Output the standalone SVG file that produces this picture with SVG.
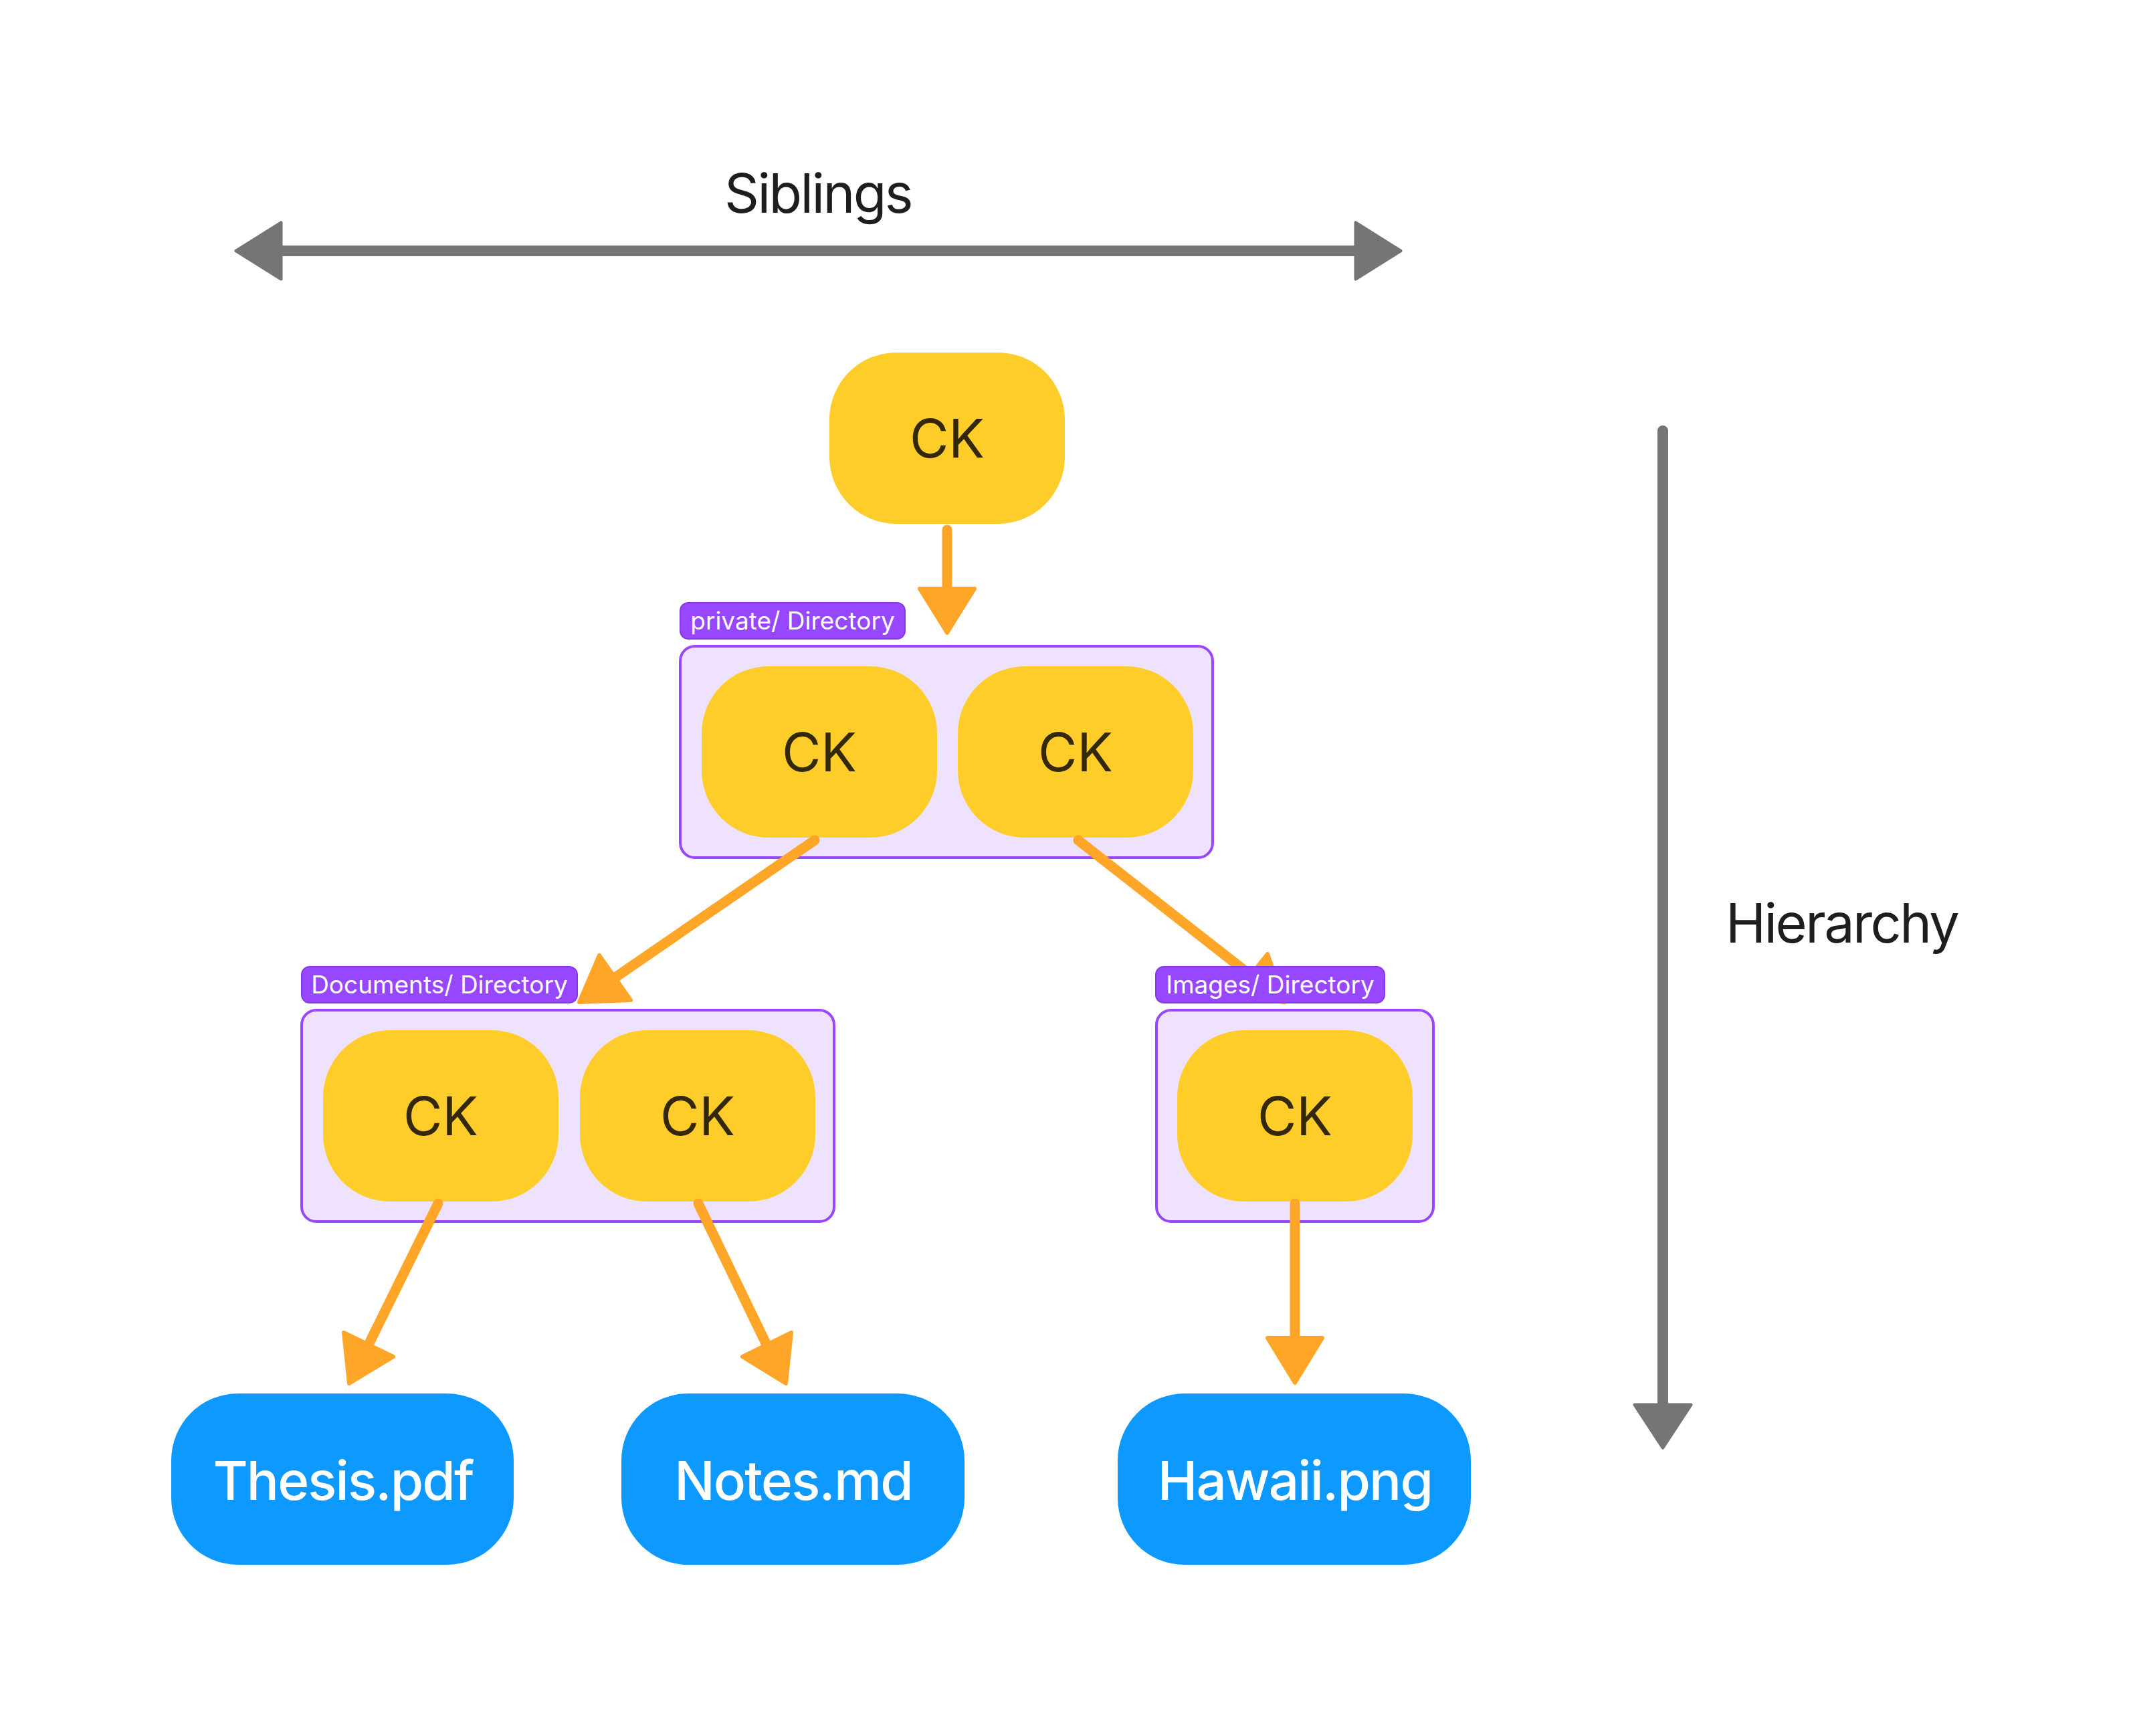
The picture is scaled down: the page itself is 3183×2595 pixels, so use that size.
<svg xmlns="http://www.w3.org/2000/svg" width="3183" height="2595" viewBox="0 0 3183 2595">
<style>
.bg{fill:#ffffff}
.ck rect{fill:#FFCD29}
.ck text{font-family:Inter,"Noto Sans",sans-serif;font-size:80px;fill:#33290A;text-anchor:middle}
.file rect{fill:#0D99FF}
.file text{font-family:Inter,"Noto Sans",sans-serif;font-size:80px;font-weight:500;letter-spacing:-1.8px;fill:#ffffff;text-anchor:middle}
.dir{fill:#EFE2FE;stroke:#9747FF;stroke-width:4}
.lbl rect{fill:#9747FF;stroke:#8638E5;stroke-width:2}
.lbl text{font-family:Inter,"Noto Sans",sans-serif;font-size:37px;fill:#ffffff;text-anchor:middle}
.axis{stroke:#757575;stroke-width:16;stroke-linecap:round;fill:none}
.axhead{fill:#757575;stroke:#757575;stroke-width:5;stroke-linejoin:round}
.axtext{font-family:Inter,"Noto Sans",sans-serif;font-size:81px;letter-spacing:-2.6px;fill:#1E1E1E}
.conn line{stroke:#FFA629;stroke-width:15;stroke-linecap:round}
.conn polygon{fill:#FFA629;stroke:#FFA629;stroke-width:6;stroke-linejoin:round}
</style>
<rect class="bg" x="0" y="0" width="3183" height="2595"/>

<g id="siblings-axis">
<line class="axis" x1="415" y1="375" x2="2031" y2="375"/>
<polygon class="axhead" points="353,375 420,333 420,417"/>
<polygon class="axhead" points="2094,375 2027,333 2027,417"/>
<text class="axtext" x="1223" y="318" text-anchor="middle">Siblings</text>
</g>

<g id="hierarchy-axis">
<line class="axis" x1="2486" y1="644" x2="2486" y2="2104"/>
<polygon class="axhead" points="2444,2100 2528,2100 2486,2164"/>
<text class="axtext" x="2580" y="1409">Hierarchy</text>
</g>

<g id="dir-private"><rect class="dir" x="1017" y="966" width="796" height="316" rx="22"/></g>
<g id="dir-documents"><rect class="dir" x="451" y="1510" width="796" height="316" rx="22"/></g>
<g id="dir-images"><rect class="dir" x="1729" y="1510" width="414" height="316" rx="22"/></g>

<g id="ck-root" class="ck"><rect x="1240" y="527" width="352" height="256" rx="100"/><text x="1416" y="684">CK</text></g>
<g id="ck-private-1" class="ck"><rect x="1049" y="996" width="352" height="256" rx="100"/><text x="1225" y="1153">CK</text></g>
<g id="ck-private-2" class="ck"><rect x="1432" y="996" width="352" height="256" rx="100"/><text x="1608" y="1153">CK</text></g>
<g id="ck-documents-1" class="ck"><rect x="483" y="1540" width="352" height="256" rx="100"/><text x="659" y="1697">CK</text></g>
<g id="ck-documents-2" class="ck"><rect x="867" y="1540" width="352" height="256" rx="100"/><text x="1043" y="1697">CK</text></g>
<g id="ck-images-1" class="ck"><rect x="1760" y="1540" width="352" height="256" rx="100"/><text x="1936" y="1697">CK</text></g>

<g id="file-thesis" class="file"><rect x="256" y="2083" width="512" height="256" rx="100"/><text x="513" y="2242">Thesis.pdf</text></g>
<g id="file-notes" class="file"><rect x="929" y="2083" width="513" height="256" rx="100"/><text x="1186" y="2242">Notes.md</text></g>
<g id="file-hawaii" class="file"><rect x="1671" y="2083" width="528" height="256" rx="100"/><text x="1936" y="2242">Hawaii.png</text></g>

<g id="connectors" class="conn">
<line x1="1416" y1="792" x2="1416" y2="884"/>
<polygon points="1375,880 1457,880 1416,946"/>
<line x1="1218" y1="1256" x2="920" y2="1461"/>
<polygon points="943,1495 896,1428 866,1498"/>
<line x1="1612" y1="1256" x2="1870" y2="1458"/>
<polygon points="1895,1426 1844,1490 1921,1498"/>
<line x1="655" y1="1799" x2="551" y2="2010"/>
<polygon points="588,2028 514,1992 522,2068"/>
<line x1="1044" y1="1799" x2="1146" y2="2010"/>
<polygon points="1183,1992 1110,2028 1175,2068"/>
<line x1="1936" y1="1799" x2="1936" y2="2004"/>
<polygon points="1895,2000 1977,2000 1936,2067"/>
</g>

<g id="label-private" class="lbl"><rect x="1017" y="901" width="336" height="54" rx="12"/><text x="1185" y="941">private/ Directory</text></g>
<g id="label-documents" class="lbl"><rect x="451" y="1445" width="412" height="54" rx="12"/><text x="657" y="1485">Documents/ Directory</text></g>
<g id="label-images" class="lbl"><rect x="1728" y="1445" width="342" height="54" rx="12"/><text x="1899" y="1485">Images/ Directory</text></g>
</svg>
